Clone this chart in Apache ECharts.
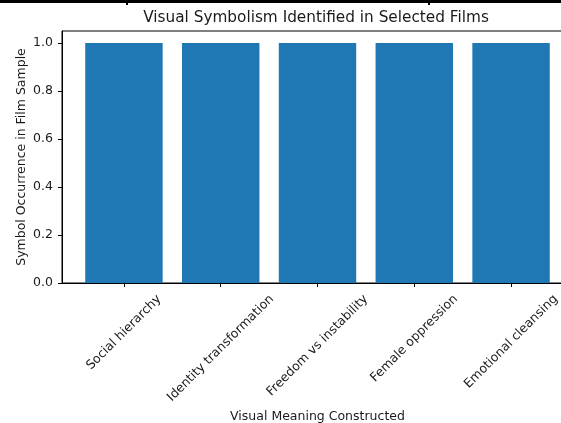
<!DOCTYPE html>
<html>
<head>
<meta charset="utf-8">
<script src="https://cdn.jsdelivr.net/npm/echarts@6/dist/echarts.min.js"></script>
<style>
  html, body { margin: 0; padding: 0; background: #fff; }
  #chart { width: 561px; height: 423px; }
</style>
</head>
<body>
<div id="chart"></div>
<script>
// Categories and counts
const categories = [
  'Social hierarchy',
  'Identity transformation',
  'Freedom vs instability',
  'Female oppression',
  'Emotional cleansing'
];
const occurrences = [1, 1, 1, 1, 1];
const yTicks = [0, 0.2, 0.4, 0.6, 0.8, 1.0];

const FONT = 'DejaVu Sans';
const TEXT = '#1a1a1a';
const LABEL_SIZE = 12.5;

// Plot area and x range (bars of width 0.8 with 5% margins)
const grid = { left: 62, top: 31, width: 511, height: 252 };
const xMin = -0.64, xMax = 4.64;
const unitPx = grid.width / (xMax - xMin);

// Rotated labels are centred under their ticks: shift each one
// by a padding that depends on its measured width.
const ctx = document.createElement('canvas').getContext('2d');
ctx.font = LABEL_SIZE + 'px "' + FONT + '"';
const rich = {};
categories.forEach((c, i) => {
  const w = ctx.measureText(c).width;
  rich['l' + i] = {
    fontFamily: FONT, fontSize: LABEL_SIZE, color: TEXT,
    padding: [w * 0.5, w * 0.5, 0, 0]
  };
});

const chart = echarts.init(document.getElementById('chart'), null, { renderer: 'canvas' });
chart.setOption({
  animation: false,
  backgroundColor: '#fff',
  title: {
    text: 'Visual Symbolism Identified in Selected Films',
    left: 311,
    textAlign: 'center',
    top: 6,
    textStyle: { fontFamily: FONT, fontSize: 15.3, fontWeight: 'normal', color: TEXT }
  },
  grid: Object.assign({
    show: true, borderColor: '#000', borderWidth: 1, backgroundColor: 'transparent',
    containLabel: false, outerBoundsMode: 'none'
  }, grid),
  xAxis: {
    type: 'value',
    min: xMin, max: xMax,
    name: 'Visual Meaning Constructed',
    nameLocation: 'middle',
    nameGap: 127,
    nameMoveOverlap: false,
    nameTextStyle: { fontFamily: FONT, fontSize: LABEL_SIZE, color: TEXT },
    axisLine: { show: true, onZero: false, lineStyle: { color: '#000', width: 1 } },
    axisTick: { show: true, length: 4, customValues: categories.map((c, i) => i), lineStyle: { color: '#000' } },
    axisLabel: {
      customValues: categories.map((c, i) => i),
      rotate: 45,
      align: 'center',
      verticalAlign: 'middle',
      margin: 14,
      formatter: v => '{l' + Math.round(v) + '|' + categories[Math.round(v)] + '}',
      rich: rich
    },
    splitLine: { show: false }
  },
  yAxis: {
    type: 'value',
    min: 0, max: 1.05,
    name: 'Symbol Occurrence in Film Sample',
    nameLocation: 'middle',
    nameGap: 34,
    nameMoveOverlap: false,
    nameTextStyle: { fontFamily: FONT, fontSize: LABEL_SIZE, color: TEXT },
    axisLine: { show: true, onZero: false, lineStyle: { color: '#000', width: 1 } },
    axisTick: { show: true, length: 4, customValues: yTicks, lineStyle: { color: '#000' } },
    axisLabel: {
      customValues: yTicks,
      margin: 9,
      fontFamily: FONT, fontSize: LABEL_SIZE, color: TEXT,
      formatter: v => v.toFixed(1)
    },
    splitLine: { show: false }
  },
  series: [{
    type: 'bar',
    data: occurrences.map((v, i) => [i, v]),
    barWidth: 0.8 * unitPx,
    itemStyle: { color: '#1f77b4' }
  }],
  graphic: [
    { type: 'rect', shape: { x: 0, y: 0, width: 561, height: 3 }, style: { fill: '#000' }, silent: true },
    { type: 'rect', shape: { x: 126, y: 0, width: 2, height: 5 }, style: { fill: '#000' }, silent: true },
    { type: 'rect', shape: { x: 428, y: 0, width: 2, height: 5 }, style: { fill: '#000' }, silent: true }
  ]
});
</script>
</body>
</html>
